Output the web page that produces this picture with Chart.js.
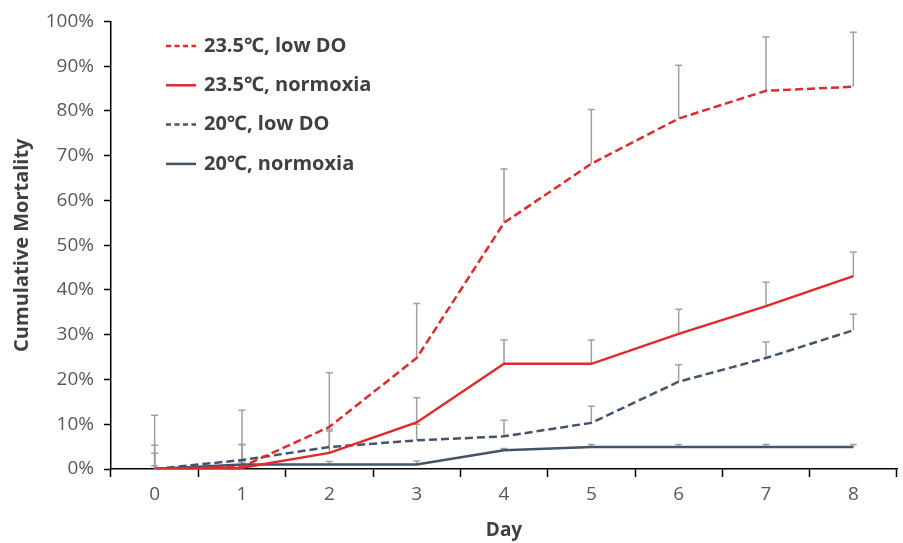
<!DOCTYPE html>
<html lang="en">
<head>
    <meta charset="UTF-8">
    <title>Cumulative Mortality</title>
    <script src="https://cdn.jsdelivr.net/npm/chart.js"></script>
    <style>
        html, body { margin: 0; padding: 0; background: #fff; }
        #wrap { width: 903px; height: 543px; }
    </style>
</head>
<body>
    <div id="wrap"><canvas id="mortalityChart"></canvas></div>

    <script>
        // values (percent), errors are upper SD bars
        const days = ['0', '1', '2', '3', '4', '5', '6', '7', '8'];
        const labels = ['23.5\u2103, low DO', '23.5\u2103, normoxia', '20\u2103, low DO', '20\u2103, normoxia'];

        const warmLowDO = [0, 0.5, 9.4, 24.8, 55, 68.2, 78.3, 84.5, 85.4];
        const warmLowDOErr = [12, 12.6, 12.1, 12.2, 12, 12.1, 11.9, 12, 12.2];
        const warmNorm = [0, 0.3, 3.6, 10.4, 23.5, 23.5, 30.2, 36.4, 43.1];
        const warmNormErr = [5.3, 5.2, 5.3, 5.5, 5.3, 5.3, 5.5, 5.3, 5.4];
        const coolLowDO = [0, 2, 4.9, 6.4, 7.3, 10.3, 19.5, 24.8, 31];
        const coolLowDOErr = [3.5, 3.5, 3.6, 3.6, 3.6, 3.7, 3.8, 3.6, 3.6];
        const coolNorm = [0, 1, 1, 1, 4.2, 4.9, 4.9, 4.9, 4.9];
        const coolNormErr = [0.7, 0.5, 0.7, 0.8, 0.4, 0.6, 0.6, 0.6, 0.6];

        const red = '#e02a2c';
        const slate = '#44546a';
        const fontFam = '"Open Sans", "Noto Sans", "DejaVu Sans", sans-serif';

        // draws the upper error bars under the lines
        const errorBars = {
            id: 'errorBars',
            beforeDatasetsDraw(chart) {
                const { ctx, scales: { x, y } } = chart;
                ctx.save();
                ctx.strokeStyle = '#a0a0a0';
                ctx.lineWidth = 1.5;
                chart.data.datasets.forEach(ds => {
                    ds.errors.forEach((e, i) => {
                        const px = x.getPixelForValue(i);
                        const y0 = y.getPixelForValue(ds.data[i]);
                        const y1 = y.getPixelForValue(ds.data[i] + e);
                        ctx.beginPath();
                        ctx.moveTo(px, y0);
                        ctx.lineTo(px, y1);
                        ctx.moveTo(px - 3.5, y1);
                        ctx.lineTo(px + 3.5, y1);
                        ctx.stroke();
                    });
                });
                ctx.restore();
            }
        };

        // legend inside the plot, top left
        const insideLegend = {
            id: 'insideLegend',
            afterDraw(chart) {
                const ctx = chart.ctx;
                ctx.save();
                ctx.font = 'bold 20px ' + fontFam;
                ctx.textBaseline = 'middle';
                chart.data.datasets.forEach((ds, i) => {
                    const yy = 46 + i * 39.3;
                    ctx.strokeStyle = ds.borderColor;
                    ctx.lineWidth = 2.5;
                    ctx.setLineDash(ds.borderDash.length ? [5, 3.5] : []);
                    ctx.beginPath();
                    ctx.moveTo(166, yy);
                    ctx.lineTo(196, yy);
                    ctx.stroke();
                    ctx.setLineDash([]);
                    ctx.fillStyle = '#404040';
                    ctx.fillText(ds.label, 204, yy);
                });
                ctx.restore();
            }
        };

        function series(label, data, errors, color, dashed) {
            return {
                label: label,
                data: data,
                errors: errors,
                borderColor: color,
                backgroundColor: color,
                borderWidth: 2.5,
                borderDash: dashed ? [8, 4] : [],
                pointRadius: 0,
                fill: false,
                tension: 0
            };
        }

        new Chart(document.getElementById('mortalityChart'), {
            type: 'line',
            data: {
                labels: days,
                datasets: [
                    series(labels[0], warmLowDO, warmLowDOErr, red, true),
                    series(labels[1], warmNorm, warmNormErr, red, false),
                    series(labels[2], coolLowDO, coolLowDOErr, slate, true),
                    series(labels[3], coolNorm, coolNormErr, slate, false)
                ]
            },
            options: {
                responsive: true,
                maintainAspectRatio: false,
                animation: false,
                layout: { padding: { top: 18, right: 6, left: 0, bottom: 0 } },
                plugins: {
                    legend: { display: false },
                    tooltip: { enabled: false }
                },
                scales: {
                    x: {
                        type: 'category',
                        offset: true,
                        grid: {
                            offset: true,
                            drawOnChartArea: false,
                            tickLength: 8,
                            tickColor: '#000',
                            tickWidth: 1.5
                        },
                        border: { color: '#000', width: 1.5 },
                        ticks: {
                            color: '#595959',
                            padding: 6,
                            font: { family: fontFam, size: 19 }
                        },
                        title: {
                            display: true,
                            text: 'Day',
                            color: '#404040',
                            padding: { top: 0, bottom: 1 },
                            font: { family: fontFam, size: 19, weight: 'bold' }
                        },
                        afterFit(scale) { scale.height = 74; }
                    },
                    y: {
                        min: 0,
                        max: 100,
                        grid: {
                            drawOnChartArea: false,
                            tickLength: 7,
                            tickColor: '#000',
                            tickWidth: 1.5
                        },
                        border: { color: '#000', width: 1.5 },
                        ticks: {
                            stepSize: 10,
                            color: '#595959',
                            padding: 10,
                            font: { family: fontFam, size: 19 },
                            callback: v => v + '%'
                        },
                        title: {
                            display: true,
                            text: 'Cumulative Mortality',
                            color: '#404040',
                            padding: { top: 10, bottom: 0 },
                            font: { family: fontFam, size: 20, weight: 'bold' }
                        },
                        afterFit(scale) { scale.width = 111; }
                    }
                }
            },
            plugins: [errorBars, insideLegend]
        });
    </script>
</body>
</html>
